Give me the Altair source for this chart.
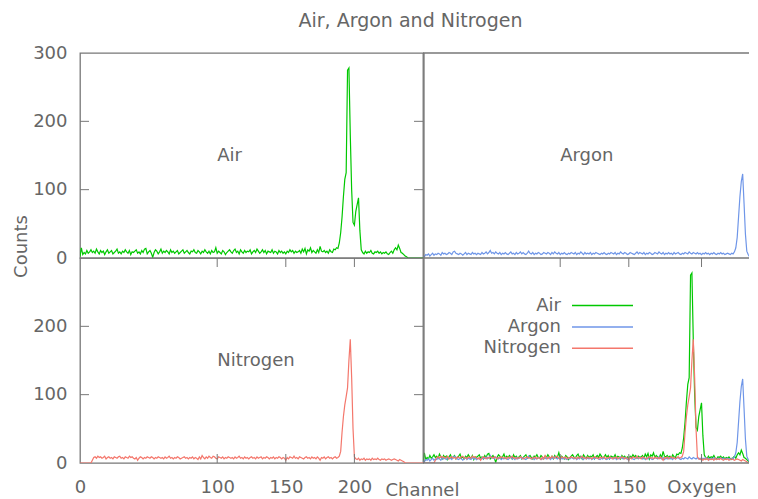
import altair as alt
import pandas as pd

# ---------------- data ----------------
CHANNELS = list(range(251))

AIR = [
    2, 15, 5, 8, 6, 11, 7, 9, 12, 8,
    10, 7, 13, 9, 6, 11, 8, 10, 5, 9,
    12, 7, 9, 11, 6, 8, 10, 13, 7, 9,
    6, 10, 8, 12, 9, 7, 11, 5, 9, 8,
    10, 12, 7, 9, 6, 11, 8, 13, 14, 6,
    9, 11, 7, 1, 8, 12, 10, 6, 9, 13,
    7, 10, 8, 11, 9, 6, 12, 8, 10, 7,
    9, 11, 6, 8, 10, 12, 7, 9, 11, 8,
    6, 10, 9, 12, 8, 7, 11, 9, 6, 10,
    8, 12, 9, 7, 10, 6, 11, 8, 9, 15,
    7, 10, 8, 6, 11, 9, 5, 8, 10, 12,
    9, 7, 11, 13, 8, 10, 6, 12, 9, 7,
    11, 8, 10, 9, 12, 6, 9, 11, 8, 13,
    10, 7, 9, 12, 8, 11, 6, 10, 9, 8,
    12, 7, 10, 9, 6, 11, 8, 10, 7, 9,
    6, 10, 8, 12, 9, 11, 7, 10, 8, 9,
    11, 7, 13, 9, 14, 6, 12, 10, 15, 8,
    11, 9, 7, 12, 8, 17, 10, 9, 11, 8,
    10, 7, 12, 9, 8, 13, 12, 15, 14, 22,
    37, 60, 90, 115, 125, 275, 278, 180, 100, 52,
    48, 68, 78, 88, 40, 12, 8, 6, 10, 7,
    9, 8, 11, 7, 6, 9, 8, 10, 7, 9,
    6, 8, 7, 9, 6, 5, 8, 10, 7, 12,
    15, 12, 19, 14, 8, 7, 5, 3, 2, 0,
    0, 0, 0, 0, 0, 0, 0, 0, 0, 0,
    0,
]

ARGON = [
    3, 2, 5, 4, 6, 3, 5, 7, 4, 6,
    5, 7, 6, 4, 8, 6, 7, 5, 6, 8,
    7, 5, 9, 10, 7, 6, 5, 7, 6, 4,
    6, 8, 5, 7, 6, 5, 8, 6, 7, 5,
    7, 6, 5, 8, 6, 7, 9, 6, 8, 11,
    7, 8, 6, 9, 7, 6, 8, 5, 7, 6,
    8, 6, 5, 7, 9, 6, 7, 5, 8, 6,
    7, 9, 6, 8, 6, 5, 7, 10, 7, 6,
    8, 5, 7, 6, 8, 7, 5, 6, 8, 7,
    6, 8, 7, 5, 8, 6, 9, 7, 6, 8,
    5, 7, 6, 8, 6, 5, 7, 6, 8, 7,
    6, 8, 5, 7, 6, 9, 7, 5, 8, 6,
    7, 6, 8, 5, 7, 6, 8, 7, 6, 5,
    7, 6, 8, 6, 5, 7, 6, 8, 7, 6,
    8, 5, 7, 6, 9, 7, 6, 8, 7, 5,
    6, 8, 7, 6, 5, 7, 9, 6, 8, 7,
    6, 8, 5, 7, 6, 8, 7, 5, 6, 8,
    7, 6, 9, 7, 6, 8, 5, 7, 6, 8,
    6, 7, 5, 8, 6, 7, 8, 6, 5, 7,
    6, 8, 7, 6, 9, 7, 6, 8, 7, 6,
    8, 6, 7, 5, 7, 6, 8, 6, 7, 5,
    7, 6, 8, 6, 5, 7, 6, 8, 6, 7,
    5, 6, 7, 6, 5, 7, 6, 9, 15, 30,
    60, 90, 112, 123, 80, 35, 10, 5, 2, 0,
    0, 0, 0, 0, 0, 0, 0, 0, 0, 0,
    0,
]

NITROGEN = [
    0, 0, 0, 0, 0, 0, 0, 0, 0, 4,
    8, 9, 7, 10, 8, 9, 7, 8, 10, 6,
    8, 9, 7, 8, 6, 9, 8, 7, 9, 10,
    7, 8, 6, 9, 8, 7, 10, 8, 9, 7,
    6, 8, 4, 7, 9, 8, 6, 8, 7, 9,
    8, 7, 9, 8, 6, 8, 7, 9, 8, 7,
    8, 6, 9, 7, 8, 10, 7, 8, 6, 8,
    7, 9, 8, 6, 7, 8, 9, 7, 8, 6,
    8, 7, 9, 6, 8, 7, 5, 9, 6, 11,
    8, 6, 9, 7, 10, 8, 7, 10, 9, 7,
    6, 9, 8, 7, 9, 6, 8, 7, 9, 8,
    7, 8, 6, 9, 7, 8, 10, 7, 8, 6,
    9, 7, 8, 6, 8, 9, 7, 8, 6, 9,
    7, 8, 9, 6, 8, 7, 9, 8, 6, 8,
    7, 9, 6, 8, 7, 9, 8, 6, 8, 7,
    4, 8, 6, 9, 8, 7, 10, 7, 8, 6,
    9, 8, 7, 6, 8, 9, 7, 8, 6, 9,
    7, 8, 6, 9, 7, 4, 8, 7, 9, 6,
    8, 9, 7, 8, 6, 8, 9, 7, 8, 10,
    17, 45, 68, 85, 97, 110, 150, 181, 125, 50,
    9, 6, 5, 7, 4, 6, 5, 7, 4, 6,
    5, 6, 4, 7, 5, 6, 5, 7, 5, 4,
    6, 5, 6, 4, 5, 6, 5, 4, 5, 6,
    5, 4, 3, 5, 4, 3, 2, 0, 0, 0,
    0, 0, 0, 0, 0, 0, 0, 0, 0, 0,
    0,
]

SERIES_NAMES = ["Air", "Argon", "Nitrogen"]
SERIES_COLORS = ["#00c800", "#6f96e8", "#f4776c"]

Y_LABELS_TOP = [0, 100, 200, 300]
Y_LABELS_BOTTOM = [0, 100, 200]
Y_TICKS = [100, 200]
X_LABELS_LEFT = [0, 100, 150, 200]
X_TICKS_LEFT = [100, 150, 200]
OXYGEN_CHANNEL = 203
X_LABELS_RIGHT = [100, 150, OXYGEN_CHANNEL]
X_TICKS_RIGHT = [100, 150, OXYGEN_CHANNEL]

ANNOT_CHANNEL = [100]
ANNOT_COUNT = [150]

# ---------------- style ----------------
FONT = "DejaVu Sans"
TXT = "#666666"
BORDER = "#777777"
BW = 1.3
LW, RW, H = 343, 326, 205
PX_PER_CH = LW / 250.0
TICK = 9
FS = 18

rows = []
for name, vals in zip(SERIES_NAMES, [AIR, ARGON, NITROGEN]):
    for ch, v in zip(CHANNELS, vals):
        rows.append({"channel": ch, "count": v, "series": name})
df = pd.DataFrame(rows)

x_left = alt.Scale(domain=[0, 250], nice=False, zero=False)
x_right = alt.Scale(domain=[0, RW / PX_PER_CH], nice=False, zero=False)
y_sc = alt.Scale(domain=[0, 300], nice=False, zero=False)


def y_axis(values, with_title=False):
    kw = dict(values=values, ticks=False, domain=False, grid=False,
              labelFont=FONT, labelFontSize=FS, labelColor=TXT,
              labelPadding=13, labelFlush=False, labelOverlap=False,
              labelBaseline="middle", format="d")
    if with_title:
        kw.update(title="Counts", titleFont=FONT, titleFontSize=FS,
                  titleFontWeight="normal", titleColor=TXT, titleAngle=270,
                  titleAlign="center", titleBaseline="alphabetic",
                  titleX=-54, titleY=193)
    else:
        kw.update(title="")
    return alt.Axis(**kw)


def x_axis(values, with_title=False, expr=None):
    kw = dict(values=values, ticks=False, domain=False, grid=False,
              labelFont=FONT, labelFontSize=FS, labelColor=TXT,
              labelPadding=15, labelFlush=False, labelOverlap=False,
              labelAlign="center", labelBaseline="top", format="d")
    if expr:
        kw.update(labelExpr=expr)
    if with_title:
        kw.update(title="Channel", titleFont=FONT, titleFontSize=FS,
                  titleFontWeight="normal", titleColor=TXT,
                  titleAlign="center", titleBaseline="alphabetic",
                  titleX=342, titleY=32.5)
    else:
        kw.update(title="")
    return alt.Axis(**kw)


def panel(series, xscale, width, xaxis, yaxis, annot, y_ticks, x_ticks, borders=()):
    X = lambda: alt.X("channel:Q", scale=xscale, axis=xaxis) if xaxis else alt.X("channel:Q", scale=xscale, axis=None)
    Y = lambda: alt.Y("count:Q", scale=y_sc, axis=yaxis) if yaxis else alt.Y("count:Q", scale=y_sc, axis=None)
    layers = []
    if series == "all":
        layers.append(
            alt.Chart(df).mark_line(strokeWidth=1.2, clip=True).encode(
                x=X(), y=Y(),
                color=alt.Color("series:N",
                                scale=alt.Scale(domain=SERIES_NAMES, range=SERIES_COLORS),
                                legend=alt.Legend(
                                    title=None, orient="none", legendX=459, legendY=241.6,
                                    symbolType="M2.2,0H8.3", symbolSize=400,
                                    symbolStrokeWidth=1.5, labelAlign="right",
                                    labelOffset=0, labelFont=FONT, labelFontSize=FS,
                                    labelColor=TXT, rowPadding=1.3,
                                    labelBaseline="middle")),
                order=alt.Order("channel:Q"),
            )
        )
    else:
        col = SERIES_COLORS[SERIES_NAMES.index(series)]
        layers.append(
            alt.Chart(df[df["series"] == series]).mark_line(
                strokeWidth=1.2, clip=True, color=col).encode(x=X(), y=Y())
        )
    if annot:
        adf = pd.DataFrame({"channel": ANNOT_CHANNEL, "count": ANNOT_COUNT, "label": [annot]})
        layers.append(
            alt.Chart(adf).mark_text(align="left", baseline="middle", font=FONT,
                                     fontSize=FS, color=TXT).encode(
                x=X(), y=Y(), text="label:N")
        )
    if y_ticks:
        tdf = pd.DataFrame({"count": y_ticks})
        for x0, x1 in [(0, TICK), (width - TICK, width)]:
            layers.append(
                alt.Chart(tdf).mark_rule(color=BORDER, strokeWidth=1).encode(
                    y=Y(), x=alt.value(x0), x2=alt.value(x1))
            )
    if x_ticks:
        tdf = pd.DataFrame({"channel": x_ticks})
        for y0, y1 in [(H - TICK, H), (0, TICK)]:
            layers.append(
                alt.Chart(tdf).mark_rule(color=BORDER, strokeWidth=1).encode(
                    x=X(), y=alt.value(y0), y2=alt.value(y1))
            )
    for yy in borders:
        layers.append(
            alt.Chart(pd.DataFrame({"k": [0]})).mark_rule(color=BORDER, strokeWidth=BW).encode(
                x=alt.value(0), x2=alt.value(width), y=alt.value(yy))
        )
    if borders:
        layers.append(
            alt.Chart(pd.DataFrame({"k": [0]})).mark_rule(color=BORDER, strokeWidth=BW).encode(
                x=alt.value(1), y=alt.value(0), y2=alt.value(H))
        )
    ch = alt.layer(*layers).properties(width=width, height=H)
    if borders:
        ch = ch.properties(view=alt.ViewBackground(strokeOpacity=0))
    else:
        ch = ch.properties(view=alt.ViewBackground(stroke=BORDER, strokeWidth=BW))
    return ch


tl = panel("Air", x_left, LW, None, y_axis(Y_LABELS_TOP, True), "Air", Y_TICKS, None)
tr = panel("Argon", x_right, RW, None, None, "Argon", None, None, borders=(0, H))
bl = panel("Nitrogen", x_left, LW, x_axis(X_LABELS_LEFT, True), y_axis(Y_LABELS_BOTTOM),
           "Nitrogen", Y_TICKS, X_TICKS_LEFT)
br = panel("all", x_right, RW,
           x_axis(X_LABELS_RIGHT, False,
                  f"datum.value == {OXYGEN_CHANNEL} ? 'Oxygen' : datum.label"),
           None, None, None, X_TICKS_RIGHT, borders=(H,))

chart = alt.concat(tl, tr, bl, br, columns=2, spacing=0, bounds="flush").resolve_scale(
    x="independent", y="independent"
).properties(
    title=alt.TitleParams(text="Air, Argon and Nitrogen", font=FONT, fontSize=19,
                          fontWeight="normal", color=TXT, anchor="middle",
                          dx=30, offset=12.5),
    padding={"left": 3, "top": 3, "right": 0, "bottom": 0},
    background="white",
).configure_view(stroke=BORDER, strokeWidth=BW)

chart.save("out.html", embed_options={"renderer": "svg", "actions": False})
